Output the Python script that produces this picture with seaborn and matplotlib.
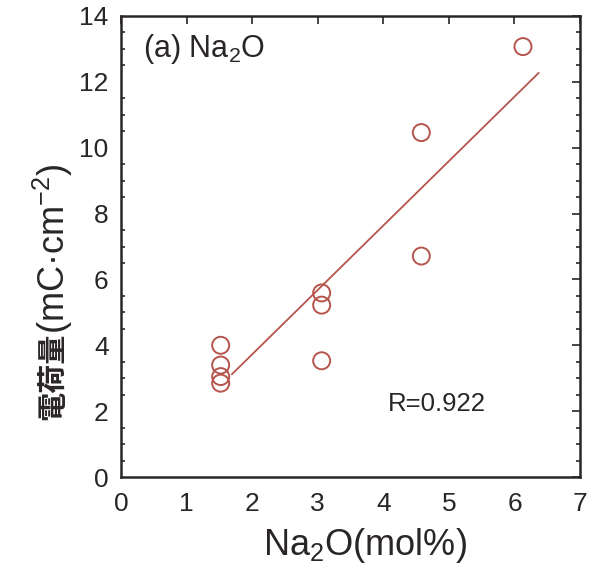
import numpy as np
import pandas as pd
import matplotlib
matplotlib.use("Agg")
import matplotlib.pyplot as plt
import seaborn as sns
from matplotlib.ticker import MultipleLocator

# ---- data ----
na2o = [1.52, 1.52, 1.52, 1.52, 3.06, 3.06, 3.06, 4.58, 4.58, 6.13]
charge = [4.0, 3.4, 3.05, 2.85, 5.59, 5.22, 3.53, 10.46, 6.71, 13.07]
fit_x_range = [1.69, 6.37]
x_ticks = [0, 1, 2, 3, 4, 5, 6, 7]
y_ticks = [0, 2, 4, 6, 8, 10, 12, 14]
panel_label = "(a) Na$_2$O"
r_label = "R=0.922"
x_label = "Na$_2$O(mol%)"
y_label_cjk = "電荷量"
y_label_unit = "(mC·cm$^{-2}$)"

sns.set_theme(style="white")
plt.rcParams['font.family'] = ['Liberation Sans', 'Noto Sans CJK JP', 'DejaVu Sans']
plt.rcParams['mathtext.fontset'] = 'custom'
plt.rcParams['mathtext.rm'] = 'Liberation Sans'
plt.rcParams['mathtext.it'] = 'Liberation Sans'
plt.rcParams['mathtext.default'] = 'regular'

df = pd.DataFrame({"x": na2o, "y": charge})
slope, intercept = np.polyfit(df["x"], df["y"], 1)
fx = np.array(fit_x_range)
fit_df = pd.DataFrame({"x": fx, "y": slope * fx + intercept})

red = "#b5554c"
ink = "#2a2626"

fig = plt.figure(figsize=(6.02, 5.67), dpi=100)
ax = fig.add_axes([0.201, 0.1587, 0.7625, 0.8131])

sns.lineplot(data=fit_df, x="x", y="y", ax=ax, color=red, linewidth=1.3)
sns.scatterplot(data=df, x="x", y="y", ax=ax, marker="o", s=150,
                facecolor="none", edgecolor=red, linewidth=1.4, zorder=3)

ax.set_xlim(0, 7)
ax.set_ylim(0, 14)
ax.set_xticks(x_ticks)
ax.set_yticks(y_ticks)
ax.yaxis.set_minor_locator(MultipleLocator(0.5))
ax.tick_params(which="both", direction="in", top=True, right=True,
               color=ink, width=1.2)
ax.tick_params(which="major", length=6, labelsize=19, labelcolor=ink)
ax.tick_params(axis="x", which="major", pad=11)
ax.tick_params(axis="y", which="major", pad=9)
ax.tick_params(which="minor", length=3)
ax.tick_params(axis="x", which="minor", bottom=False, top=False)
ax.tick_params(axis="y", which="minor", left=True, right=True)
for s in ax.spines.values():
    s.set_color(ink)
    s.set_linewidth(1.8)

ax.set_xlabel("")
ax.set_ylabel("")
ax.text(0.531, -0.148, x_label, transform=ax.transAxes, ha="center",
        va="center", fontsize=26, color=ink)
ax.text(-0.149, 0.124, y_label_cjk, transform=ax.transAxes, rotation=90,
        ha="center", va="bottom", fontsize=21, fontweight="bold",
        color=ink, family=['Noto Sans CJK JP'])
ax.text(-0.149, 0.31, y_label_unit, transform=ax.transAxes, rotation=90,
        ha="center", va="bottom", fontsize=26, color=ink)

ax.text(0.048, 0.928, panel_label, transform=ax.transAxes, ha="left",
        va="center", fontsize=22, color=ink)
ax.text(0.582, 0.158, r_label, transform=ax.transAxes, ha="left",
        va="center", fontsize=18.5, color=ink)

fig.savefig("out.png", dpi=100)
